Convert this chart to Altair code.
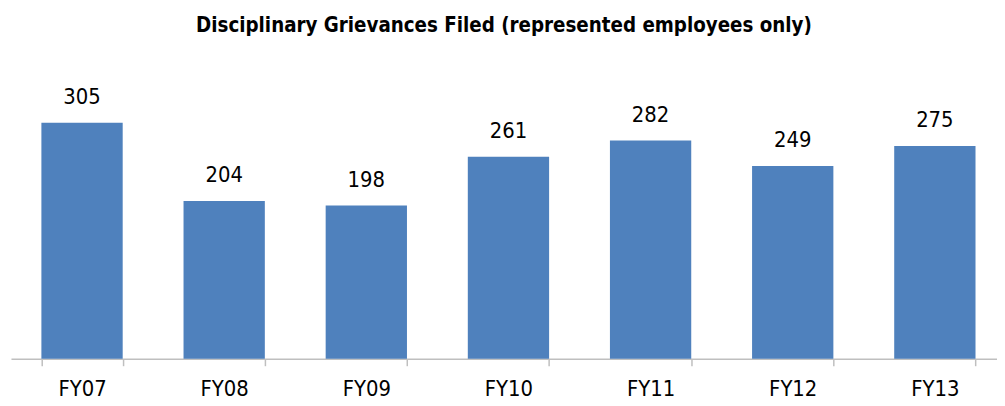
import altair as alt
import pandas as pd

years = ["FY07", "FY08", "FY09", "FY10", "FY11", "FY12", "FY13"]
grievances = [305, 204, 198, 261, 282, 249, 275]

df = pd.DataFrame({"year": years, "count": grievances})

FONT = "DejaVu Sans Condensed, Liberation Sans Narrow, Arial Narrow, sans-serif"

base = alt.Chart(df).encode(
    x=alt.X(
        "year:N",
        sort=years,
        title=None,
        scale=alt.Scale(paddingInner=0.428, paddingOuter=0.214, range=[0, 1003]),
        axis=alt.Axis(
            labelAngle=0,
            labelFont=FONT,
            labelFontSize=22,
            labelColor="#000000",
            labelPadding=13,
            labelBaseline="top",
            tickBand="extent",
            tickSize=7,
            tickColor="#bfbfbf",
            domainColor="#bfbfbf",
            domainWidth=1.5,
            tickWidth=1.5,
        ),
    ),
    y=alt.Y("count:Q", scale=alt.Scale(domain=[0, 350]), axis=None),
)

bars = base.mark_bar(color="#4f81bd")
labels = base.mark_text(
    dy=-14, baseline="bottom", font=FONT, fontSize=22, color="#000000"
).encode(text="count:Q")

chart = (
    (bars + labels)
    .properties(
        width=994,
        height=273,
        padding={"left": 3, "top": 79, "right": 0, "bottom": 45},
        autosize=alt.AutoSizeParams(type="none"),
        title=alt.TitleParams(
            "Disciplinary Grievances Filed (represented employees only)",
            font=FONT,
            fontSize=20.5,
            fontWeight="bold",
            color="#000000",
            anchor="middle",
            offset=50,
        ),
    )
    .configure_view(stroke=None)
)

chart.save("out.html", embed_options={"renderer": "svg", "actions": False})
